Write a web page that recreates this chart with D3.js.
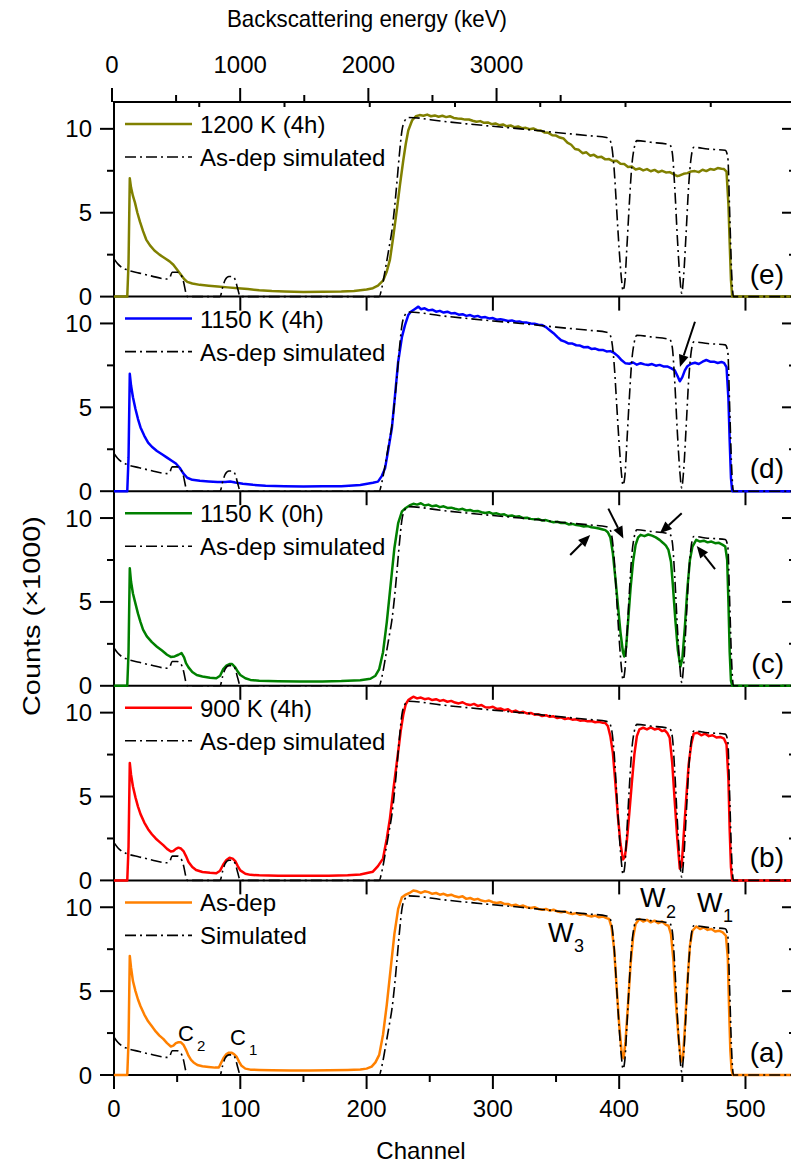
<!DOCTYPE html>
<html><head><meta charset="utf-8">
<script src="https://cdn.jsdelivr.net/npm/d3@7"></script>
<style>body{margin:0;background:#fff} text{font-family:"Liberation Sans",Arial,Helvetica,sans-serif;fill:#000}</style>
</head><body><svg id="c" width="791" height="1169"></svg>
<script>
// ---------- tick labels ----------
const channelTicks=[0,100,200,300,400,500];
const channelMinor=[50,150,250,350,450];
const energyTicks=[0,1000,2000,3000];
const energyMinor=[500,1500,2500,3500];
const countTicks=[0,5,10];
const countMinor=[2.5,7.5];

// ---------- simulated as-dep spectrum [channel, counts/1000] ----------
const simulated=[[0,2.25],[3,1.95],[6,1.75],[10,1.6],[20,1.4],[30,1.22],[42,1.05],[44,1.1],[46,1.45],[50,1.45],[53,1.3],[55,0.9],[57,0.2],[58,0],[84,0],[86,0.55],[88,1.0],[91,1.2],[94,1.2],[96,1.0],[98,0.45],[100,0],[210,0],[212,0.5],[215,1.7],[218,3.0],[220,3.9],[222,5.2],[224,6.8],[226,8.5],[228,9.9],[230,10.45],[233,10.68],[260,10.45],[300,10.15],[322,10.0],[350,9.78],[375,9.6],[390,9.48],[392,9.4],[394,9.0],[396,7.6],[398,5.2],[400,2.8],[402,0.9],[403,0.35],[404.5,0.9],[406,2.8],[408,5.5],[410,7.8],[412,8.9],[414,9.3],[425,9.2],[440,9.05],[442,8.6],[444,6.5],[446,3.6],[448,1.2],[449.5,0.2],[451,1.2],[453,3.8],[455,6.6],[457,8.3],[459,8.9],[470,8.8],[484,8.72],[486,8.3],[487.5,5],[489,1.5],[490.5,0],[540,0]];

// ---------- measured spectra ----------
const asDep=[[0,0],[10.5,0],[11.5,2],[12.5,7.1],[13.5,6.4],[15,5.6],[17,5.0],[19,4.5],[21,4.1],[24,3.6],[27,3.2],[30,2.9],[33,2.6],[36,2.35],[39,2.15],[42,1.9],[45,1.7],[47,1.75],[49,1.9],[51,1.95],[53,1.95],[55,1.8],[57,1.5],[59,1.15],[61,0.9],[63,0.75],[66,0.6],[70,0.52],[75,0.48],[80,0.44],[83,0.45],[85,0.75],[87,1.05],[89,1.25],[91,1.33],[93,1.33],[95,1.25],[97,1.1],[99,0.8],[101,0.55],[104,0.38],[108,0.32],[115,0.3],[125,0.28],[140,0.27],[155,0.27],[170,0.28],[185,0.3],[195,0.33],[200,0.38],[204,0.5],[207,0.75],[210,1.2],[213,2.4],[216,4.2],[219,6.3],[222,8.4],[225,9.9],[228,10.6],
[231,10.75],[234,10.85],[237,11.0],[240,10.95],[243,10.85],[246,10.95],[249,10.9],[252,10.8],[255,10.85],[258,10.75],[261,10.8],[264,10.7],[267,10.75],[270,10.65],[273,10.6],[276,10.65],[279,10.5],[282,10.55],[285,10.45],[288,10.5],[291,10.4],[294,10.35],[297,10.4],[300,10.3],[303,10.25],[306,10.3],[309,10.2],[312,10.2],[315,10.1],[318,10.15],[321,10.05],[324,10.1],[327,10.0],[330,9.95],[333,10.0],[336,9.9],[339,9.85],[342,9.9],[345,9.8],[348,9.85],[351,9.75],[354,9.7],[357,9.75],[360,9.65],[363,9.6],[366,9.65],[369,9.55],[372,9.6],[375,9.5],[378,9.45],[381,9.5],[384,9.4],[387,9.45],[390,9.35],[392,9.3],
[394,8.8],[396,7.5],[398,5.2],[400,3.0],[402,1.3],[403.5,1.0],[405,2.0],[407,4.2],[409,6.6],[411,8.2],[413,9.0],[416,9.3],[419,9.15],[422,9.25],[425,9.1],[428,9.2],[431,9.05],[434,9.15],[437,8.95],[439,8.9],[441,8.4],[443,6.8],[445,4.2],[447,2.2],[449,0.8],[450.5,1.0],[452,2.8],[454,5.5],[456,7.7],[458,8.6],[461,8.85],[464,8.7],[467,8.8],[470,8.65],[473,8.7],[476,8.55],[479,8.6],[482,8.5],[484.5,8.3],[486,7.0],[487,4.0],[488,1.5],[489,0.3],[490,0],[540,0]];

const k900h4=[[0,0],[10.5,0],[11.5,2],[12.5,7.0],[13.5,6.3],[15,5.6],[17,4.95],[19,4.4],[21,3.95],[24,3.45],[27,3.05],[30,2.75],[33,2.5],[36,2.3],[39,2.1],[42,1.88],[45,1.72],[47,1.75],[49,1.88],[51,1.95],[53,1.9],[55,1.75],[57,1.45],[59,1.1],[62,0.8],[65,0.62],[70,0.5],[76,0.45],[81,0.43],[84,0.58],[86.5,0.95],[89,1.22],[91.5,1.35],[94,1.3],[96,1.15],[98,0.85],[100,0.6],[104,0.4],[108,0.33],[115,0.3],[130,0.28],[150,0.27],[170,0.28],[185,0.3],[195,0.35],[205,0.52],[209,0.85],[213,1.3],[216,2.5],[218.5,3.7],[221,5.3],[225,7.67],[227,8.9],[229,9.86],
[231,10.5],[233,10.75],[235,10.85],[237,10.95],[240,10.85],[243,10.9],[246,10.8],[249,10.85],[252,10.75],[255,10.8],[258,10.7],[261,10.75],[264,10.65],[267,10.7],[270,10.6],[273,10.55],[276,10.62],[279,10.5],[282,10.45],[285,10.52],[288,10.4],[291,10.45],[294,10.32],[297,10.3],[300,10.35],[303,10.22],[306,10.25],[309,10.15],[312,10.2],[315,10.05],[318,10.12],[321,10.0],[324,10.05],[327,9.95],[330,9.98],[333,9.88],[336,9.9],[339,9.8],[342,9.85],[345,9.75],[348,9.78],[351,9.68],[354,9.72],[357,9.62],[360,9.66],[363,9.58],[366,9.6],[369,9.52],[372,9.55],[375,9.48],[378,9.5],[381,9.43],[384,9.45],[387,9.4],[389,9.38],[391,9.2],
[393,8.6],[395,7.6],[397,5.8],[399,3.8],[401,2.2],[403,1.25],[404.5,1.4],[406,2.3],[408,4.0],[410,5.8],[412,7.5],[414,8.6],[416,9.0],[419,9.1],[422,9.0],[425,9.12],[428,9.0],[431,9.05],[434,8.9],[436,8.95],[438,8.8],[440,8.5],[442,7.0],[444,4.7],[446,2.5],[448,0.7],[449.5,0.9],[451,2.6],[453,4.8],[455,6.9],[457,8.1],[459,8.75],[462,8.8],[465,8.65],[468,8.75],[471,8.6],[474,8.65],[477,8.52],[480,8.55],[483,8.45],[485,8.1],[486.5,6.0],[487.5,3.0],[488.5,0.8],[489.5,0],[540,0]];

const k1150h0=[[0,0],[10.5,0],[11.5,2],[12.5,7.0],[13.5,6.2],[15,5.5],[17,4.9],[19,4.3],[21,3.8],[23,3.35],[26,2.95],[30,2.6],[34,2.33],[38,2.1],[42,1.85],[45,1.72],[48,1.75],[51,1.85],[53.5,1.95],[55.5,1.7],[57,1.35],[59,1.1],[62,0.82],[65.5,0.64],[70,0.55],[76,0.48],[81,0.45],[84,0.6],[86.5,1.0],[89,1.2],[91.5,1.3],[93.5,1.3],[96,1.1],[98,0.85],[100,0.64],[104,0.45],[108,0.35],[115,0.3],[130,0.27],[147,0.25],[165,0.26],[180,0.28],[195,0.33],[203,0.42],[207,0.6],[210,1.0],[213,2.0],[216,3.8],[219,6.0],[222,8.2],[225,9.7],[228,10.4],
[231,10.6],[234,10.75],[237,10.85],[240,10.8],[243,10.88],[246,10.75],[249,10.8],[252,10.7],[255,10.75],[258,10.65],[261,10.7],[264,10.6],[267,10.62],[270,10.55],[273,10.5],[276,10.55],[279,10.45],[282,10.48],[285,10.4],[288,10.42],[291,10.35],[294,10.3],[297,10.35],[300,10.25],[303,10.28],[306,10.2],[309,10.22],[312,10.12],[315,10.15],[318,10.08],[321,10.1],[324,10.0],[327,10.02],[330,9.95],[333,9.92],[336,9.95],[339,9.85],[342,9.88],[345,9.8],[348,9.75],[351,9.78],[354,9.7],[357,9.72],[360,9.62],[363,9.65],[366,9.58],[369,9.55],[372,9.5],[375,9.52],[378,9.45],[381,9.42],[384,9.38],[387,9.32],[389,9.28],[391,9.15],
[393,8.85],[395,7.9],[397,6.4],[399,4.8],[401,3.2],[403,2.0],[404,1.75],[405.5,2.3],[407,3.8],[409,5.8],[411,7.4],[413,8.4],[415,8.85],[417,9.0],[420,8.92],[423,9.02],[426,8.95],[429,8.85],[432,8.7],[435,8.5],[437,8.35],[439,8.1],[441,7.4],[442.5,6.0],[444.5,3.9],[446.5,2.1],[448.5,1.15],[450,1.6],[452,3.5],[454,5.8],[456,7.5],[458,8.3],[461,8.7],[464,8.6],[467,8.65],[470,8.55],[473,8.6],[476,8.5],[479,8.52],[482,8.4],[484,8.3],[485.5,7.5],[486.5,5.0],[487.5,2.0],[488.5,0.3],[489.5,0],[540,0]];

const k1150h4=[[0,0],[10.5,0],[11.5,2],[12.5,7.0],[13.5,6.3],[15,5.6],[17,4.9],[19,4.3],[21,3.8],[24,3.3],[27,2.9],[30,2.65],[34,2.4],[38,2.2],[42,2.0],[46,1.8],[49,1.65],[52,1.4],[55,1.05],[58,0.8],[62,0.68],[68,0.62],[75,0.58],[82,0.55],[88,0.55],[92,0.58],[96,0.52],[102,0.45],[110,0.38],[120,0.32],[135,0.3],[150,0.28],[165,0.29],[180,0.3],[195,0.37],[205,0.5],[209,0.57],[212,0.9],[214.6,1.36],[217,2.4],[220,3.75],[222.5,5.7],[225,7.72],[228,9.2],[230.4,9.9],
[233,10.5],[235,10.7],[238,10.85],[241,11.0],[243,10.85],[246,10.9],[249,10.78],[252,10.82],[255,10.7],[258,10.75],[261,10.65],[264,10.7],[267,10.6],[270,10.62],[273,10.52],[276,10.55],[279,10.45],[282,10.5],[285,10.4],[288,10.45],[291,10.35],[294,10.38],[297,10.3],[300,10.32],[303,10.22],[306,10.25],[309,10.2],[312,10.15],[315,10.18],[318,10.1],[321,10.12],[324,10.05],[327,10.05],[330,10.0],[333,9.98],[336,9.92],[339,9.9],[342,9.78],[345,9.6],[348,9.42],[351,9.2],[354,9.0],[357,8.92],[360,8.8],[363,8.8],[366,8.7],[369,8.68],[372,8.58],[375,8.6],[378,8.48],[381,8.5],[384,8.42],[387,8.42],[390,8.33],[393,8.35],[396,8.24],[399,8.05],[402,7.8],[405,7.62],[408,7.6],[411,7.67],[414,7.54],[417,7.63],[420,7.56],[423,7.52],[426,7.58],[429,7.48],[432,7.53],[435,7.44],[438,7.44],[441,7.34],[444,7.2],[446,6.9],[448,6.55],[450,6.8],[452,7.2],[454,7.45],[457,7.6],[460,7.66],[463,7.58],[466,7.72],[469,7.82],[472,7.72],[475,7.72],[478,7.64],[481,7.7],[483,7.65],[485,7.4],[486.5,5.5],[487.5,3.0],[488.5,0.8],[489.5,0],[540,0]];

const k1200h4=[[0,0],[10.5,0],[11.5,2],[12.5,7.05],[13.5,6.5],[15,6.0],[16.6,5.6],[18.5,5.0],[20.6,4.45],[23,3.9],[25.5,3.4],[28.5,3.05],[32,2.75],[36,2.5],[40,2.3],[44,2.1],[47,1.9],[50,1.6],[53,1.3],[55.5,1.05],[58,0.88],[62,0.78],[68,0.7],[75,0.65],[82,0.6],[90,0.55],[98,0.5],[106,0.45],[115,0.38],[125,0.33],[135,0.3],[150,0.28],[165,0.29],[180,0.3],[190,0.33],[200,0.42],[205,0.5],[209,0.65],[213,0.95],[216,1.5],[218.5,2.2],[221,3.5],[224,5.2],[226.5,6.7],[229,8.1],[231,9.1],[233,9.9],[236,10.5],[239,10.75],
[242,10.82],[245,10.78],[248,10.85],[251,10.75],[254,10.8],[257,10.72],[260,10.78],[263,10.7],[266,10.75],[269,10.65],[272,10.62],[275,10.6],[278,10.55],[281,10.56],[284,10.48],[287,10.42],[290,10.46],[293,10.36],[296,10.38],[299,10.28],[302,10.32],[305,10.22],[308,10.26],[311,10.15],[314,10.2],[317,10.1],[320,10.14],[323,10.04],[326,10.06],[329,9.98],[332,10.02],[335,9.92],[338,9.9],[341,9.78],[344,9.76],[347,9.62],[350,9.6],[353,9.48],[356,9.42],[359,9.18],[362,9.05],[365,8.8],[368,8.75],[371,8.55],[374,8.6],[377,8.4],[380,8.45],[383,8.3],[386,8.33],[389,8.18],[392,8.2],[395,8.08],[398,8.1],[401,7.92],[404,7.9],[407,7.72],[410,7.75],[413,7.58],[416,7.64],[419,7.52],[422,7.6],[425,7.47],[428,7.55],[431,7.42],[434,7.5],[437,7.4],[440,7.42],[443,7.3],[446,7.18],[448,7.22],[451,7.32],[454,7.36],[457,7.46],[460,7.48],[463,7.42],[466,7.56],[469,7.48],[472,7.6],[475,7.56],[478,7.66],[481,7.62],[483,7.6],[485,7.45],[486.5,5.5],[487.5,3.2],[488.5,1.0],[489.5,0],[540,0]];

// arrows [tailChannel, tailCounts, headChannel, headCounts]
const arrows1150h4=[[460.0,10.1,448.1,7.41]];
const arrows1150h0=[[361.2,7.8,377.0,8.99],[391.4,10.56,403.3,8.78],[449.5,10.28,432.2,9.09],[475.9,6.96,461.4,8.34]];

const panels=[
  {tag:"(e)",data:k1200h4,color:"#808000",legend:["1200 K (4h)","As-dep simulated"],arrows:[]},
  {tag:"(d)",data:k1150h4,color:"#0000ff",legend:["1150 K (4h)","As-dep simulated"],arrows:arrows1150h4},
  {tag:"(c)",data:k1150h0,color:"#008000",legend:["1150 K (0h)","As-dep simulated"],arrows:arrows1150h0},
  {tag:"(b)",data:k900h4,color:"#ff0000",legend:["900 K (4h)","As-dep simulated"],arrows:[]},
  {tag:"(a)",data:asDep,color:"#ff8000",legend:["As-dep","Simulated"],arrows:[]}
];

// ---------- layout ----------
const svg=d3.select("#c");
const L=114,R=796,T=102,PH=194.6;
const x=d3.scaleLinear().domain([0,540]).range([L,R]);
const xe=d3.scaleLinear().domain([0,1000]).range([x(-1.6),x(99.9)]);
const FS=24;

function line(g,x1,y1,x2,y2,w){g.append("line").attr("x1",x1).attr("y1",y1).attr("x2",x2).attr("y2",y2).attr("stroke","#000").attr("stroke-width",w||2);}

const axesG=svg.append("g");
const dataG=svg.append("g");
const annoG=svg.append("g");

// top energy axis
line(axesG,L-1,T,R,T,2);
energyTicks.forEach(v=>{line(axesG,xe(v),T,xe(v),T-14,2);
  axesG.append("text").attr("x",xe(v)).attr("y",64).attr("text-anchor","middle").attr("dominant-baseline","central").attr("font-size",FS).text(v);});
energyMinor.forEach(v=>line(axesG,xe(v),T,xe(v),T-7,2));
d3.range(1,8).forEach(i=>{const xx=L+(R-L)*i/8; line(axesG,xx,T,xx,T+5,2);});
axesG.append("text").attr("x",367).attr("y",18).attr("text-anchor","middle").attr("dominant-baseline","central").attr("font-size",FS).attr("textLength",280).attr("lengthAdjust","spacingAndGlyphs").text("Backscattering energy (keV)");

// left / right axis
line(axesG,L,T-1,L,T+5*PH+1,2);
line(axesG,R,T,R,T+5*PH,2);

const dataLine=(y)=>d3.line().x(d=>x(d[0])).y(d=>y(d[1])).curve(d3.curveLinear);
const simLine=(y)=>d3.line().x(d=>x(d[0])).y(d=>y(d[1])).curve(d3.curveMonotoneX);

panels.forEach((p,i)=>{
  const top=T+i*PH, bot=top+PH;
  const y=d3.scaleLinear().domain([0,11.6]).range([bot,top]);
  p.y=y;
  line(axesG,L-1,bot,R,bot,2);
  countTicks.forEach(v=>{line(axesG,L,y(v),L-14,y(v),2); line(axesG,R,y(v),R-14,y(v),2);
    axesG.append("text").attr("x",92).attr("y",y(v)).attr("text-anchor","end").attr("dominant-baseline","central").attr("font-size",FS).text(v);});
  countMinor.forEach(v=>{line(axesG,L,y(v),L-7,y(v),2); line(axesG,R,y(v),R-7,y(v),2);});
  if(i<4){
    channelTicks.forEach(v=>{ if(v>0) line(axesG,x(v),bot,x(v),bot+14,2);});
  } else {
    channelTicks.forEach(v=>{line(axesG,x(v),bot,x(v),bot+14,2);
      axesG.append("text").attr("x",x(v)).attr("y",bot+33).attr("text-anchor","middle").attr("dominant-baseline","central").attr("font-size",FS).text(v);});
    channelMinor.forEach(v=>line(axesG,x(v),bot,x(v),bot+7,2));
  }
  // data
  dataG.append("path").datum(p.data).attr("d",dataLine(y)).attr("fill","none").attr("stroke",p.color).attr("stroke-width",2.5).attr("stroke-linejoin","round");
  dataG.append("path").datum(simulated).attr("d",simLine(y)).attr("fill","none").attr("stroke","#000").attr("stroke-width",1.6).attr("stroke-dasharray","11,4,2,4");
  // legend
  annoG.append("line").attr("x1",125).attr("x2",192).attr("y1",top+22).attr("y2",top+22).attr("stroke",p.color).attr("stroke-width",2.5);
  annoG.append("text").attr("x",200).attr("y",top+31).attr("font-size",FS).text(p.legend[0]);
  annoG.append("line").attr("x1",125).attr("x2",192).attr("y1",top+55).attr("y2",top+55).attr("stroke","#000").attr("stroke-width",1.6).attr("stroke-dasharray","11,4,2,4");
  annoG.append("text").attr("x",200).attr("y",top+64).attr("font-size",FS).text(p.legend[1]);
  // panel tag
  annoG.append("text").attr("x",784).attr("y",bot-13).attr("text-anchor","end").attr("font-size",28).text(p.tag);
  // arrows
  p.arrows.forEach(a=>{
    const x1=x(a[0]),y1=y(a[1]),x2=x(a[2]),y2=y(a[3]);
    const dx=x2-x1,dy=y2-y1,len=Math.hypot(dx,dy),ux=dx/len,uy=dy/len;
    const hl=12,hw=5;
    const bx=x2-ux*hl,by=y2-uy*hl;
    annoG.append("line").attr("x1",x1).attr("y1",y1).attr("x2",bx).attr("y2",by).attr("stroke","#000").attr("stroke-width",2);
    annoG.append("path").attr("d",`M${x2},${y2}L${bx-uy*hw},${by+ux*hw}L${bx+uy*hw},${by-ux*hw}Z`).attr("fill","#000");
  });
});

// peak labels in panel (a)
const ya=panels[4].y;
const peakLabels=[{t:"C",s:"2",ch:50.7,v:2.0,fs:22,ss:15,dx:19,dy:10},{t:"C",s:"1",ch:91.8,v:1.8,fs:22,ss:15,dx:19,dy:10},
  {t:"W",s:"3",ch:343.6,v:7.93,fs:27,ss:18,dx:26,dy:10},{t:"W",s:"2",ch:416.5,v:10.0,fs:27,ss:18,dx:26,dy:11},{t:"W",s:"1",ch:461.6,v:9.7,fs:27,ss:18,dx:26,dy:10}];
peakLabels.forEach(l=>{
  annoG.append("text").attr("x",x(l.ch)).attr("y",ya(l.v)).attr("font-size",l.fs).text(l.t);
  annoG.append("text").attr("x",x(l.ch)+l.dx).attr("y",ya(l.v)+l.dy).attr("font-size",l.ss).text(l.s);
});

// axis titles
annoG.append("text").attr("x",421).attr("y",1150).attr("text-anchor","middle").attr("dominant-baseline","central").attr("font-size",FS).text("Channel");
annoG.append("text").attr("transform","translate(31,616) rotate(-90)").attr("text-anchor","middle").attr("dominant-baseline","central").attr("font-size",FS).attr("textLength",200).attr("lengthAdjust","spacingAndGlyphs").text("Counts (\u00d71000)");
</script></body></html>
